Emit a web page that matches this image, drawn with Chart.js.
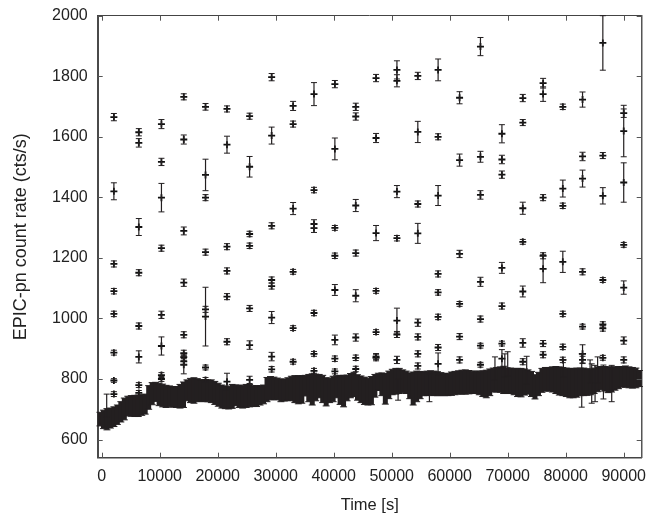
<!DOCTYPE html>
<html>
<head>
<meta charset="utf-8">
<style>
  html, body { margin: 0; padding: 0; background: #fff; }
  canvas { display: block; }
</style>
<script src="https://cdn.jsdelivr.net/npm/chart.js@4"></script>
</head>
<body>
<canvas id="lightcurve" width="665" height="515"></canvas>
<script>
// flaring points above the band, one list per time column
const columnTimes = [2100, 6400, 10300, 14150, 17900, 21600, 25500, 29300, 33000, 36600, 40200, 43800, 47300,
  50900, 54500, 58000, 61700, 65300, 69000, 72600, 76100, 79500, 82900, 86400, 90000];
const columnRates = [
  [1665, 1420, 1180, 1090, 1015, 887, 795, 750],
  [1615, 1580, 1302, 1151, 975, 873, 780, 754],
  [1642, 1517, 1399, 1232, 1012, 909, 813, 800],
  [1732, 1591, 1289, 1118, 946, 885, 872, 858, 847],
  [1699, 1474, 1399, 1219, 1030, 1006, 838, 797],
  [1692, 1574, 1237, 1157, 1072, 923, 791],
  [1668, 1501, 1279, 1240, 1033, 912, 797],
  [1797, 1604, 1306, 1127, 1107, 1003, 874, 832],
  [1702, 1642, 1363, 1154, 968, 857],
  [1741, 1424, 1312, 1298, 1018, 883, 827],
  [1774, 1560, 1299, 1207, 1094, 929, 867, 825],
  [1699, 1667, 1373, 1216, 1075, 937, 870, 833],
  [1794, 1596, 1282, 1091, 955, 874, 870],
  [1821, 1785, 1419, 1265, 993, 947, 863],
  [1801, 1616, 1378, 1281, 986, 939, 883, 843],
  [1821, 1600, 1406, 1147, 1086, 1005, 904, 850],
  [1729, 1523, 1213, 1048, 940, 863],
  [1898, 1534, 1408, 1121, 998, 910, 847],
  [1610, 1525, 1475, 1167, 1041, 917, 867],
  [1728, 1647, 1364, 1253, 1089, 919, 857],
  [1777, 1741, 1399, 1207, 1164, 917, 880],
  [1699, 1429, 1372, 1187, 1015, 906, 863],
  [1723, 1535, 1462, 1154, 973, 883, 863],
  [1910, 1538, 1405, 1127, 980, 967, 870],
  [1678, 1619, 1449, 1243, 1102, 927, 863],
];
const columnErrors = [
  [12, 28, 10, 9, 9, 8, 6, 8],
  [12, 14, 28, 10, 10, 20, 8, 8],
  [15, 12, 47, 10, 12, 30, 8, 8],
  [10, 15, 13, 12, 10, 10, 10, 10, 30],
  [11, 52, 10, 10, 10, 97, 8, 8],
  [10, 28, 10, 10, 10, 10, 28],
  [10, 34, 9, 9, 10, 14, 12],
  [12, 28, 10, 10, 10, 20, 14, 9],
  [15, 10, 20, 8, 8, 8],
  [38, 9, 14, 14, 9, 8, 8],
  [12, 36, 8, 9, 18, 16, 9, 8],
  [12, 12, 20, 10, 20, 12, 9, 9],
  [12, 15, 25, 8, 8, 10, 10],
  [30, 20, 20, 9, 41, 10, 12],
  [12, 35, 10, 33, 12, 10, 10, 10],
  [36, 10, 33, 10, 9, 9, 10, 36],
  [20, 20, 12, 8, 10, 10],
  [30, 18, 14, 15, 10, 8, 8],
  [30, 14, 12, 18, 10, 8, 30],
  [12, 10, 20, 8, 18, 14, 10],
  [16, 24, 10, 10, 46, 10, 10],
  [9, 28, 9, 35, 9, 9, 9],
  [25, 14, 28, 10, 8, 30, 12],
  [90, 10, 27, 8, 9, 9, 8],
  [14, 85, 65, 8, 22, 12, 10],
];

// single long error bars that stick out of the band
const strayTimes = [860, 51100, 56500, 67800, 69500, 70000, 73270, 79600, 82760, 84200, 84480, 85060, 85500, 86500, 87930];
const strayRates = [712, 765, 770, 835, 845, 850, 830, 835, 795, 825, 785, 785, 830, 790, 785];
const strayErrors = [38, 35, 45, 38, 38, 40, 45, 28, 88, 38, 65, 60, 43, 56, 60];

// quiescent band, extent of the error bars read every 600 s
const bandTimes = [-300, 300, 900, 1500, 2100, 2700, 3300, 3900, 4500, 5100, 5700, 6300, 6900, 7500, 8100, 8700, 9300, 9900,
  10500, 11100, 11700, 12300, 12900, 13500, 14100, 14700, 15300, 15900, 16500, 17100, 17700, 18300, 18900, 19500,
  20100, 20700, 21300, 21900, 22500, 23100, 23700, 24300, 24900, 25500, 26100, 26700, 27300, 27900, 28500, 29100, 29700,
  30300, 30900, 31500, 32100, 32700, 33300, 33900, 34500, 35100, 35700, 36300, 36900, 37500, 38100, 38700, 39300, 39900,
  40500, 41100, 41700, 42300, 42900, 43500, 44100, 44700, 45300, 45900, 46500, 47100, 47700, 48300, 48900, 49500,
  50100, 50700, 51300, 51900, 52500, 53100, 53700, 54300, 54900, 55500, 56100, 56700, 57300, 57900, 58500, 59100, 59700,
  60300, 60900, 61500, 62100, 62700, 63300, 63900, 64500, 65100, 65700, 66300, 66900, 67500, 68100, 68700, 69300, 69900,
  70500, 71100, 71700, 72300, 72900, 73500, 74100, 74700, 75300, 75900, 76500, 77100, 77700, 78300, 78900, 79500,
  80100, 80700, 81300, 81900, 82500, 83100, 83700, 84300, 84900, 85500, 86100, 86700, 87300, 87900, 88500, 89100, 89700,
  90300, 90900, 91500, 92100, 92700];
const bandHigh = [690, 697, 702, 704, 708, 714, 725, 737, 743, 745, 746, 747, 748, 750, 778, 788, 789, 786,
  783, 779, 777, 775, 775, 782, 790, 797, 802, 804, 801, 798, 797, 797, 797, 792,
  786, 780, 777, 776, 782, 780, 780, 778, 782, 782, 778, 778, 778, 780, 805, 808, 806,
  803, 800, 800, 804, 809, 811, 811, 811, 812, 815, 817, 816, 815, 812, 804, 803, 809,
  811, 812, 812, 813, 818, 822, 814, 810, 806, 803, 808, 815, 819, 820, 818, 826,
  832, 835, 835, 830, 826, 820, 823, 826, 825, 824, 826, 827, 826, 824, 821, 818, 819,
  823, 825, 827, 829, 830, 828, 826, 826, 826, 827, 829, 833, 836, 838, 840, 842, 837,
  836, 835, 835, 835, 833, 830, 825, 814, 822, 835, 838, 838, 840, 841, 840, 838,
  836, 835, 835, 836, 836, 836, 834, 832, 836, 840, 841, 841, 840, 840, 840, 841, 841,
  843, 840, 838, 836, 828];
const bandLow = [645, 636, 632, 638, 643, 650, 658, 665, 678, 677, 676, 676, 680, 684, 700, 715, 726, 712,
  708, 706, 708, 707, 706, 704, 706, 728, 722, 720, 725, 726, 725, 725, 722, 716,
  710, 704, 702, 701, 703, 712, 706, 704, 706, 708, 709, 709, 714, 718, 725, 731, 732,
  731, 725, 727, 729, 728, 722, 718, 720, 744, 725, 714, 728, 738, 722, 711, 722, 725,
  738, 716, 708, 728, 738, 742, 730, 722, 716, 714, 715, 740, 762, 745, 717, 735,
  748, 750, 752, 755, 752, 735, 714, 725, 735, 745, 745, 746, 745, 745, 745, 745, 745,
  746, 748, 750, 750, 750, 751, 752, 752, 748, 742, 738, 745, 757, 757, 756, 752, 752,
  752, 748, 742, 741, 747, 750, 742, 734, 745, 756, 760, 760, 757, 752, 747, 745,
  742, 738, 738, 740, 745, 745, 746, 748, 752, 758, 764, 760, 755, 757, 763, 768, 773,
  773, 771, 770, 771, 775];

const xLimits = [-690, 93100];
const yLimits = [540, 2000];
const xTickValues = [0, 10000, 20000, 30000, 40000, 50000, 60000, 70000, 80000, 90000];
const yTickValues = [600, 800, 1000, 1200, 1400, 1600, 1800, 2000];

const flarePoints = [];
columnTimes.forEach((t, i) => {
  columnRates[i].forEach((rate, j) => {
    flarePoints.push({ x: t, y: rate, yMin: rate - columnErrors[i][j], yMax: rate + columnErrors[i][j] });
  });
});
const strayPoints = strayTimes.map((t, i) => ({
  x: t, y: strayRates[i], yMin: strayRates[i] - strayErrors[i], yMax: strayRates[i] + strayErrors[i],
}));
const bandPoints = bandTimes.map((t, i) => ({
  x: t, y: (bandLow[i] + bandHigh[i]) / 2, yMin: bandLow[i], yMax: bandHigh[i],
}));

// Chart.js has no error bars, so draw them from the scales
const errorBars = {
  id: "errorBars",
  afterDatasetsDraw(chart) {
    const { ctx, scales } = chart;
    chart.data.datasets.forEach((ds) => {
      ctx.save();
      ctx.strokeStyle = ds.barColor;
      ds.data.forEach((p) => {
        const x = scales.x.getPixelForValue(p.x);
        const top = scales.y.getPixelForValue(p.yMax);
        const bottom = scales.y.getPixelForValue(p.yMin);
        ctx.lineWidth = ds.barWidth;
        ctx.beginPath();
        ctx.moveTo(x, top);
        ctx.lineTo(x, bottom);
        ctx.stroke();
        ctx.lineWidth = 1;
        ctx.beginPath();
        ctx.moveTo(x - ds.capSize, top);
        ctx.lineTo(x + ds.capSize, top);
        ctx.moveTo(x - ds.capSize, bottom);
        ctx.lineTo(x + ds.capSize, bottom);
        ctx.stroke();
      });
      ctx.restore();
    });
  },
};

// gnuplot style tick marks pointing into the plot on all four sides
const innerTicks = {
  id: "innerTicks",
  afterDraw(chart) {
    const { ctx, scales, chartArea } = chart;
    const len = 5;
    ctx.save();
    ctx.strokeStyle = "#555";
    ctx.lineWidth = 1;
    ctx.beginPath();
    scales.x.ticks.forEach((t) => {
      const x = Math.round(scales.x.getPixelForValue(t.value)) + 0.5;
      ctx.moveTo(x, chartArea.bottom);
      ctx.lineTo(x, chartArea.bottom - len);
      ctx.moveTo(x, chartArea.top);
      ctx.lineTo(x, chartArea.top + len);
    });
    scales.y.ticks.forEach((t) => {
      const y = Math.round(scales.y.getPixelForValue(t.value)) + 0.5;
      ctx.moveTo(chartArea.left, y);
      ctx.lineTo(chartArea.left + len, y);
      ctx.moveTo(chartArea.right, y);
      ctx.lineTo(chartArea.right - len, y);
    });
    ctx.stroke();
    ctx.restore();
  },
};

const tickFont = { family: "'Liberation Sans', Arial, sans-serif", size: 16 };
const textColor = "#222";
const markColor = "#231f20";
const noGrid = { drawOnChartArea: false, drawTicks: false };

function dropPadding(scale) {
  scale.paddingLeft = 0;
  scale.paddingRight = 0;
  scale.paddingTop = 0;
  scale.paddingBottom = 0;
}

new Chart(document.getElementById("lightcurve").getContext("2d"), {
  type: "scatter",
  data: {
    datasets: [
      {
        data: bandPoints,
        pointRadius: 0,
        barColor: markColor,
        barWidth: 5,
        capSize: 3.5,
      },
      {
        data: strayPoints,
        pointRadius: 0,
        barColor: markColor,
        barWidth: 1.2,
        capSize: 3,
      },
      {
        data: flarePoints,
        pointStyle: "cross",
        pointRadius: 3.5,
        pointBorderWidth: 1.8,
        pointBorderColor: "#111",
        borderColor: "#111",
        barColor: markColor,
        barWidth: 1.2,
        capSize: 3,
      },
    ],
  },
  options: {
    responsive: false,
    animation: false,
    layout: { padding: { top: 15.7, right: 23.3, left: 0, bottom: 0 } },
    plugins: { legend: { display: false }, tooltip: { enabled: false } },
    scales: {
      x: {
        type: "linear",
        position: "bottom",
        min: xLimits[0],
        max: xLimits[1],
        border: { display: true, color: "#444", width: 1.5 },
        grid: noGrid,
        afterBuildTicks: (scale) => { scale.ticks = xTickValues.map((v) => ({ value: v })); },
        ticks: {
          autoSkip: false,
          maxRotation: 0,
          padding: 9,
          color: textColor,
          font: tickFont,
          callback: (v) => String(v),
        },
        title: { display: true, text: "Time [s]", color: textColor, font: { family: tickFont.family, size: 16.5 }, padding: { top: 7, bottom: 0 } },
        afterFit: (scale) => { scale.height = 57.3; dropPadding(scale); },
      },
      y: {
        type: "linear",
        position: "left",
        min: yLimits[0],
        max: yLimits[1],
        border: { display: true, color: "#4a4a4a", width: 2 },
        grid: noGrid,
        afterBuildTicks: (scale) => { scale.ticks = yTickValues.map((v) => ({ value: v })); },
        ticks: {
          autoSkip: false,
          padding: 10,
          color: textColor,
          font: tickFont,
          callback: (v) => String(v),
        },
        title: { display: true, text: "EPIC-pn count rate (cts/s)", color: textColor, font: { family: tickFont.family, size: 18 }, padding: { top: 10, bottom: 0 } },
        afterFit: (scale) => { scale.width = 97.7; dropPadding(scale); },
      },
      xTop: {
        type: "linear",
        position: "top",
        min: xLimits[0],
        max: xLimits[1],
        border: { display: true, color: "#444", width: 1 },
        grid: noGrid,
        ticks: { display: false },
        afterFit: (scale) => { scale.height = 0; dropPadding(scale); },
      },
      yRight: {
        type: "linear",
        position: "right",
        min: yLimits[0],
        max: yLimits[1],
        border: { display: true, color: "#555", width: 1.5 },
        grid: noGrid,
        ticks: { display: false },
        afterFit: (scale) => { scale.width = 0; dropPadding(scale); },
      },
    },
  },
  plugins: [errorBars, innerTicks],
});
</script>
</body>
</html>
